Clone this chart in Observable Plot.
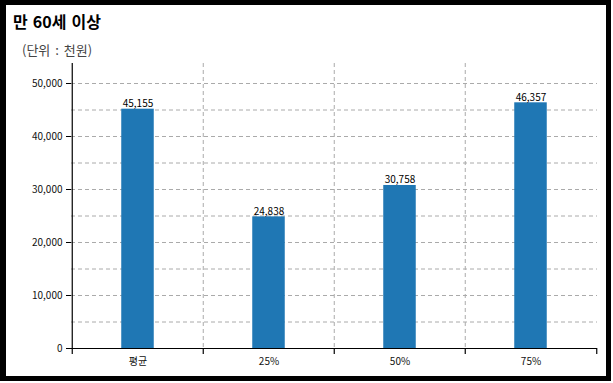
<!DOCTYPE html>
<html>
<head>
<meta charset="utf-8">
<script src="https://cdn.jsdelivr.net/npm/d3@7"></script>
<script src="https://cdn.jsdelivr.net/npm/@observablehq/plot@0.6"></script>
<style>
  html, body { margin: 0; padding: 0; background: #fff; }
  body { width: 613px; height: 383px; position: relative; overflow: hidden; font-family: "Noto Sans CJK KR", "Noto Sans", sans-serif; }
  #frame { position: absolute; left: 0; top: 0; width: 611px; height: 381px; box-sizing: border-box;
           border-style: solid; border-color: #000; border-width: 5px 5px 5px 6px; z-index: 5; pointer-events: none; }
  #title { position: absolute; left: 13px; top: 13px; font-size: 16px; line-height: 16px; font-weight: bold; color: #000; white-space: nowrap; word-spacing: 1.5px; }
  #subtitle { position: absolute; left: 22px; top: 43px; font-size: 13px; line-height: 13px; color: #444; white-space: nowrap; word-spacing: 2px; }
  #chart { position: absolute; left: 0; top: 56px; }
  #chart svg { background: transparent; }
</style>
</head>
<body>
<div id="frame"></div>
<div id="title">만 60세 이상</div>
<div id="subtitle">(단위 : 천원)</div>
<div id="chart"></div>
<script>
const categories = ["평균", "25%", "50%", "75%"];
const values = [45155, 24838, 30758, 46357];
const yTickValues = [0, 10000, 20000, 30000, 40000, 50000];
const gridValues = [5000, 10000, 15000, 20000, 25000, 30000, 35000, 40000, 45000, 50000];

const data = categories.map((c, i) => ({category: c, value: values[i]}));

const W = 613, H = 320, mL = 71, mR = 16, mT = 7, mB = 28;
const step = (W - mL - mR) / categories.length;
const barW = 33;
const inset = (step - barW) / 2;
const fmt = d3.format(",");
const gridStyle = {stroke: "#aaa", strokeOpacity: 1, strokeWidth: 1, strokeDasharray: "4,3"};

const chart = Plot.plot({
  width: W, height: H,
  marginLeft: mL, marginRight: mR, marginTop: mT, marginBottom: mB,
  style: {fontFamily: "'Noto Sans CJK KR', 'Noto Sans', sans-serif", fontSize: "10px", color: "#111", background: "transparent"},
  x: {domain: categories, padding: 0, label: null},
  y: {domain: [0, 53774], label: null},
  marks: [
    Plot.ruleY(gridValues, {...gridStyle}),
    Plot.ruleX(categories.slice(1), {x: d => d, dx: -step / 2, ...gridStyle}),
    Plot.barY(data, {x: "category", y: "value", fill: "#1f77b4", insetLeft: inset, insetRight: inset}),
    Plot.text(data, {x: "category", y: "value", text: d => fmt(d.value), lineAnchor: "bottom", dy: -2, fill: "#000", fontSize: 10}),
    Plot.ruleX([categories[0]], {x: d => d, dx: -step / 2, stroke: "#000", strokeWidth: 1.2}),
    Plot.ruleY([0], {stroke: "#000", strokeWidth: 1.2}),
    Plot.ruleX(categories, {x: d => d, y1: 0, y2: 0, insetBottom: -6, dx: -step / 2, stroke: "#000", strokeWidth: 1.2}),
    Plot.ruleX([categories[categories.length - 1]], {x: d => d, y1: 0, y2: 0, insetBottom: -6, dx: step / 2, stroke: "#000", strokeWidth: 1.2}),
    Plot.axisY({ticks: yTickValues, tickFormat: d => fmt(d), tickSize: 5, tickPadding: 4, stroke: "#000", fill: "#111", fontSize: 10}),
    Plot.axisX({tickSize: 0, tickPadding: 9, fill: "#111", fontSize: 10})
  ]
});
document.getElementById("chart").appendChild(chart);
</script>
</body>
</html>
